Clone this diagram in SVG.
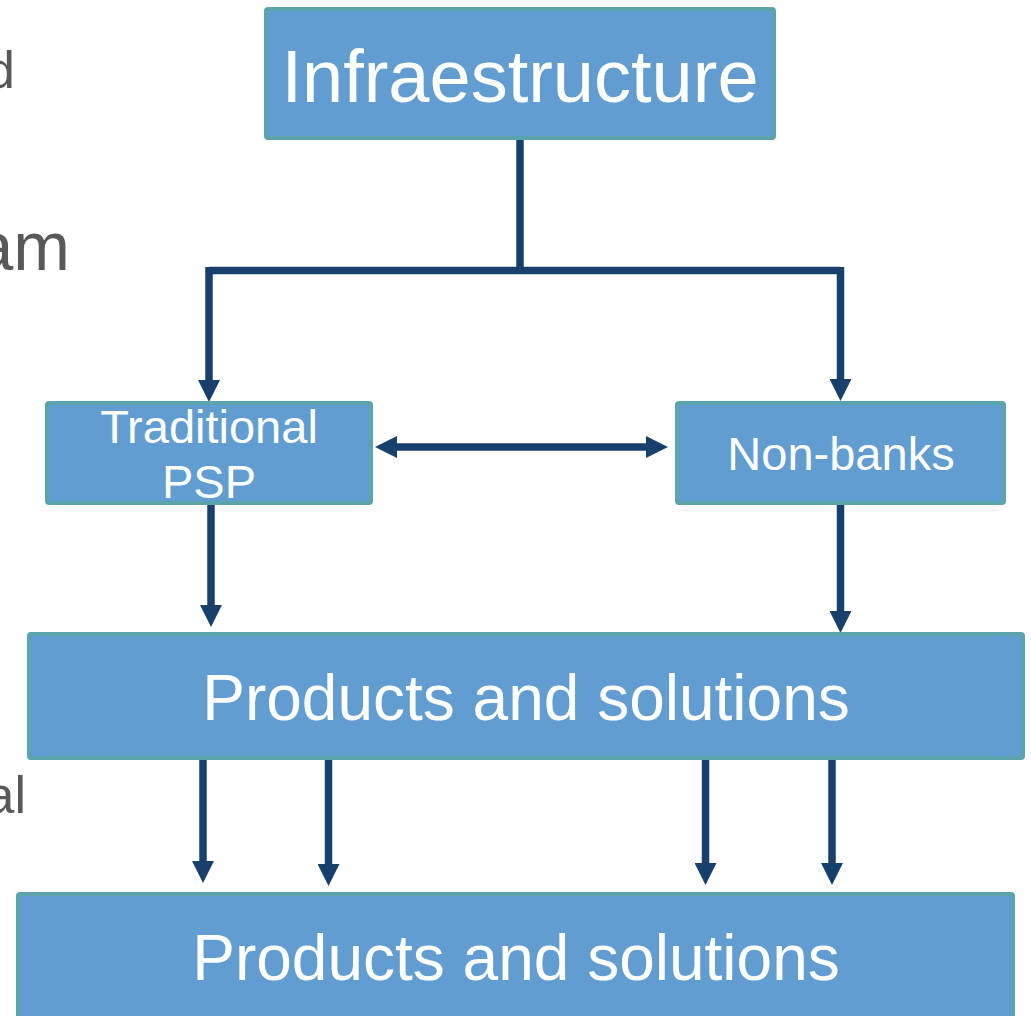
<svg xmlns="http://www.w3.org/2000/svg" width="1031" height="1016" viewBox="0 0 1031 1016">
<defs>
<style>
.box{fill:#629DD1;stroke:#5BA4AB;stroke-width:4}
.lbl{font-family:"Liberation Sans",Arial,sans-serif;fill:#FFFFFF;text-anchor:middle}
.side{font-family:"Liberation Sans",Arial,sans-serif;fill:#595959;text-anchor:end}
.con{fill:none;stroke:#17406D;stroke-width:7.5}
</style>
<marker id="ah" markerUnits="userSpaceOnUse" markerWidth="22" markerHeight="22" refX="0" refY="11" orient="auto-start-reverse" viewBox="0 0 22 22">
<path d="M0,0 L22,11 L0,22 z" fill="#17406D"/>
</marker>
</defs>
<rect width="1031" height="1016" fill="#FFFFFF"/>
<g id="side-text">
<text class="side" x="15" y="88" font-size="52">d</text>
<text class="side" x="70" y="270" font-size="68">am</text>
<text class="side" x="26" y="813" font-size="52">al</text>
</g>
<g id="connectors">
<path class="con" d="M520,139 V270.5"/>
<path class="con" d="M209,270.5 H840.5" />
<path class="con" d="M209,267 V380" marker-end="url(#ah)"/>
<path class="con" d="M840.5,267 V379" marker-end="url(#ah)"/>
<path class="con" d="M397,447 H646" marker-start="url(#ah)" marker-end="url(#ah)"/>
<path class="con" d="M211,504 V605" marker-end="url(#ah)"/>
<path class="con" d="M840.5,504 V611" marker-end="url(#ah)"/>
<path class="con" d="M203,758 V861" marker-end="url(#ah)"/>
<path class="con" d="M328.5,758 V864" marker-end="url(#ah)"/>
<path class="con" d="M705.5,758 V863" marker-end="url(#ah)"/>
<path class="con" d="M832,758 V863" marker-end="url(#ah)"/>
</g>
<g id="infraestructure">
<rect class="box" x="266" y="9" width="508" height="129" rx="2"/>
<text class="lbl" x="520" y="102" font-size="74">Infraestructure</text>
</g>
<g id="traditional-psp">
<rect class="box" x="47" y="403" width="324" height="100" rx="2"/>
<text class="lbl" x="209" y="443" font-size="47">Traditional</text>
<text class="lbl" x="209" y="498" font-size="47">PSP</text>
</g>
<g id="non-banks">
<rect class="box" x="677" y="403" width="327" height="100" rx="2"/>
<text class="lbl" x="841" y="470" font-size="47">Non-banks</text>
</g>
<g id="products-1">
<rect class="box" x="29" y="634" width="994" height="124" rx="2"/>
<text class="lbl" x="526" y="720" font-size="64">Products and solutions</text>
</g>
<g id="products-2">
<rect class="box" x="18" y="894" width="995" height="132" rx="2"/>
<text class="lbl" x="516" y="980" font-size="64">Products and solutions</text>
</g>
</svg>
